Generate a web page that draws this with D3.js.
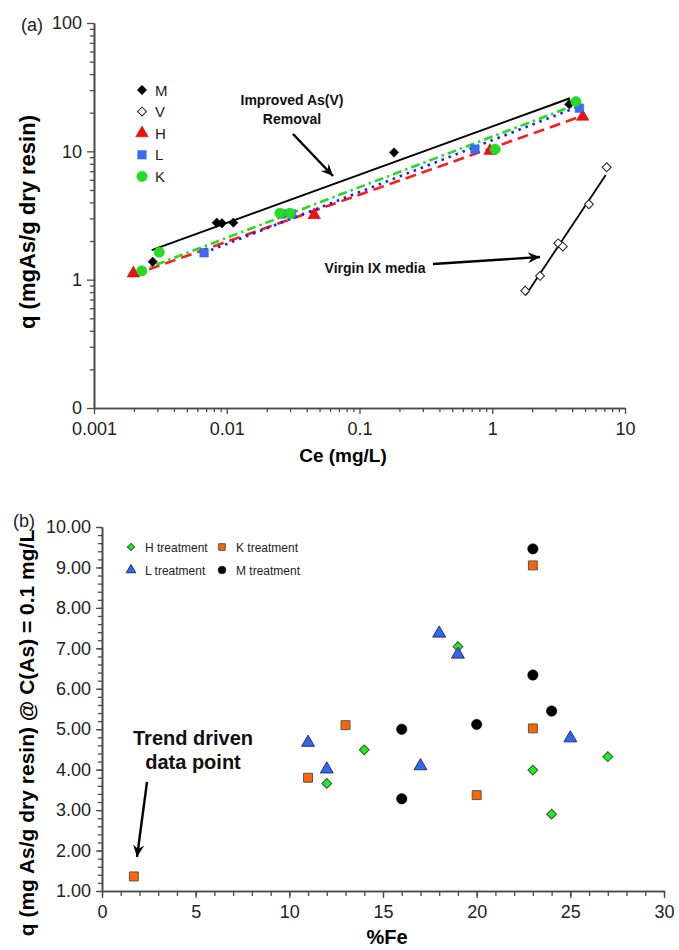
<!DOCTYPE html>
<html>
<head>
<meta charset="utf-8">
<script src="https://cdn.jsdelivr.net/npm/d3@7"></script>
<style>
    body { margin: 0; background: #fff; }
    svg { display: block; font-family: Arial, 'Liberation Sans', sans-serif; }
</style>
</head>
<body>
<script>

/*
*   Data (a): isotherms, Ce (mg/L) vs q (mgAs/g dry resin)
*/

const seriesM = [[0.00277, 1.38], [0.0084, 2.78], [0.0092, 2.75], [0.0112, 2.78], [0.182, 9.8], [3.8, 23.3]]
const seriesV = [[1.77, 0.82], [2.29, 1.07], [3.14, 1.92], [3.40, 1.81], [5.35, 3.87], [7.28, 7.52]]
const seriesH = [[0.00198, 1.12], [0.0456, 3.19], [0.962, 10.1], [4.80, 18.6]]
const seriesL = [[0.00675, 1.62], [0.0259, 3.25], [0.0308, 3.25], [0.741, 10.4], [4.53, 21.7]]
const seriesK = [[0.00229, 1.17], [0.0031, 1.64], [0.0252, 3.29], [0.0299, 3.29], [1.05, 10.4], [4.27, 24.4]]

// trend line end points
const fitM = [[0.00272, 1.70], [3.85, 25.9]]
const fitV = [[1.79, 0.76], [7.16, 6.55]]
const fitH = [[0.00197, 1.09], [4.58, 18.6]]
const fitL = [[0.00675, 1.62], [4.20, 21.8]]
const fitK = [[0.00214, 1.155], [4.06, 22.6]]

const topLegend = ['M', 'V', 'H', 'L', 'K']
const topXTicks = [0.001, 0.01, 0.1, 1, 10]
const topXLabels = ['0.001', '0.01', '0.1', '1', '10']
const topYTicks = [0.1, 1, 10, 100]
const topYLabels = ['0', '1', '10', '100']


/*
*   Data (b): q @ C(As) = 0.1 mg/L vs %Fe
*/

const treatH = [[12, 3.66], [14, 4.49], [19, 7.04], [23, 3.99], [24, 2.90], [27, 4.32]]
const treatK = [[1.7, 1.36], [11, 3.80], [13, 5.10], [20, 3.37], [23, 5.02], [23, 9.05]]
const treatL = [[11, 4.67], [12, 4.01], [17, 4.09], [18, 7.37], [19, 6.85], [25, 4.78]]
const treatM = [[16, 5.00], [16, 3.28], [20, 5.12], [23, 9.46], [23, 6.34], [24, 5.45]]

const botLegend = ['H treatment', 'K treatment', 'L treatment', 'M treatment']
const botXTicks = [0, 5, 10, 15, 20, 25, 30]
const botYTicks = [1, 2, 3, 4, 5, 6, 7, 8, 9, 10]


/*
*   Setup
*/

const svg = d3.select('body').append('svg')
    .attr('width', 679)
    .attr('height', 950)

const AXIS = '#4a4a4a'

const styleAxis = (g, size) => {
    g.select('.domain').attr('stroke', AXIS).attr('stroke-width', 1.6)
    g.selectAll('.tick line').attr('stroke', AXIS).attr('stroke-width', 1.3)
    g.selectAll('.tick text').attr('fill', '#222').style('font-size', size + 'px')
}

// diamonds are squares turned by 45 degrees
const DIAMOND = 'diamond'
const sym = (type, size) => d3.symbol().type(type === DIAMOND ? d3.symbolSquare : type).size(size)()
const place = (type, x, y) => `translate(${x},${y})` + (type === DIAMOND ? ' rotate(45)' : '')


/*
*   Panel (a)
*/

const xA = d3.scaleLog().domain([0.001, 10]).range([94, 625])
const yA = d3.scaleLog().domain([0.1, 100]).range([408, 23])

const minorA = (scale, majors) => scale.ticks().filter(t => !majors.some(m => Math.abs(m - t) / m < 1e-6))

svg.append('g').attr('transform', 'translate(0,408)')
    .call(d3.axisBottom(xA).tickValues(minorA(xA, topXTicks)).tickFormat('').tickSize(4).tickSizeOuter(0))
    .call(g => styleAxis(g, 18))
svg.append('g').attr('transform', 'translate(0,408)')
    .call(d3.axisBottom(xA).tickValues(topXTicks).tickFormat((d, i) => topXLabels[i]).tickSize(6).tickPadding(8).tickSizeOuter(0))
    .call(g => styleAxis(g, 18))

svg.append('g').attr('transform', 'translate(94,0)')
    .call(d3.axisLeft(yA).tickValues(minorA(yA, topYTicks)).tickFormat('').tickSize(4).tickSizeOuter(0))
    .call(g => styleAxis(g, 18))
svg.append('g').attr('transform', 'translate(94,0)')
    .call(d3.axisLeft(yA).tickValues(topYTicks).tickFormat((d, i) => topYLabels[i]).tickSize(7).tickPadding(5).tickSizeOuter(0))
    .call(g => styleAxis(g, 18))

svg.append('text').attr('x', 21).attr('y', 31).style('font-size', '18px').attr('fill', '#222').text('(a)')

svg.append('text')
    .attr('transform', 'translate(35,222) rotate(-90)')
    .attr('text-anchor', 'middle')
    .style('font-size', '22px').style('font-weight', 'bold')
    .text('q (mgAs/g dry resin)')

svg.append('text')
    .attr('x', 343).attr('y', 462)
    .attr('text-anchor', 'middle')
    .style('font-size', '19px').style('font-weight', 'bold')
    .text('Ce (mg/L)')

const lineA = d3.line().x(d => xA(d[0])).y(d => yA(d[1]))

const fitsA = [
    { data: fitV, color: '#000', width: 1.8, dash: null },
    { data: fitM, color: '#000', width: 2, dash: null },
    { data: fitH, color: '#ff1a1a', width: 2.6, dash: '11,6' },
    { data: fitL, color: '#1a1aff', width: 2.6, dash: '2.5,5' },
    { data: fitK, color: '#22dd22', width: 2.6, dash: '9,4,2.5,4' },
]

svg.append('g').selectAll('path')
    .data(fitsA)
    .join('path')
    .attr('d', d => lineA(d.data))
    .attr('fill', 'none')
    .attr('stroke', d => d.color)
    .attr('stroke-width', d => d.width)
    .attr('stroke-dasharray', d => d.dash)

const marksA = [
    { data: seriesV, type: DIAMOND, size: 40, fill: '#fff', stroke: '#222', sw: 1 },
    { data: seriesM, type: DIAMOND, size: 44, fill: '#000', stroke: '#000', sw: 0.5 },
    { data: seriesH, type: d3.symbolTriangle, size: 68, fill: '#ee1111', stroke: '#cc0000', sw: 0.5 },
    { data: seriesL, type: d3.symbolSquare, size: 72, fill: '#3a6cf4', stroke: '#2a55dd', sw: 0.5 },
    { data: seriesK, type: d3.symbolCircle, size: 85, fill: '#22dd22', stroke: '#1fc41f', sw: 0.5 },
]

marksA.forEach(s => {
    svg.append('g').selectAll('path')
        .data(s.data)
        .join('path')
        .attr('transform', d => place(s.type, xA(d[0]), yA(d[1])))
        .attr('d', sym(s.type, s.size))
        .attr('fill', s.fill)
        .attr('stroke', s.stroke)
        .attr('stroke-width', s.sw)
})

// legend (a)
const legA = svg.append('g').attr('transform', 'translate(142,90)')
const legAStyle = [marksA[1], marksA[0], marksA[2], marksA[3], marksA[4]]
topLegend.forEach((name, i) => {
    const s = legAStyle[i]
    legA.append('path')
        .attr('transform', place(s.type, 0, i * 21.6))
        .attr('d', sym(s.type, s.size))
        .attr('fill', s.fill).attr('stroke', s.stroke).attr('stroke-width', s.sw)
    legA.append('text')
        .attr('x', 13).attr('y', i * 21.6 + 5.5)
        .style('font-size', '15px').attr('fill', '#222')
        .text(name)
})

// arrows
const defs = svg.append('defs')
defs.append('marker')
    .attr('id', 'head')
    .attr('viewBox', '-12 -6 14 12')
    .attr('markerWidth', 14).attr('markerHeight', 12)
    .attr('markerUnits', 'userSpaceOnUse')
    .attr('orient', 'auto')
    .append('path')
    .attr('d', 'M0,0 L-12,-5.5 L-8,0 L-12,5.5 Z')
    .attr('fill', '#000')

const arrow = (x1, y1, x2, y2) => svg.append('line')
    .attr('x1', x1).attr('y1', y1).attr('x2', x2).attr('y2', y2)
    .attr('stroke', '#000').attr('stroke-width', 2.4)
    .attr('marker-end', 'url(#head)')

const boldText = (x, y, size, str) => svg.append('text')
    .attr('x', x).attr('y', y).attr('text-anchor', 'middle')
    .style('font-size', size + 'px').style('font-weight', 'bold').attr('fill', '#111')
    .text(str)

boldText(292, 105, 14, 'Improved As(V)')
boldText(292, 124, 14, 'Removal')
arrow(293, 134, 333, 176)

boldText(375, 273, 14, 'Virgin IX media')
arrow(433, 264, 540, 257)


/*
*   Panel (b)
*/

const xB = d3.scaleLinear().domain([0, 30]).range([102, 664])
const yB = d3.scaleLinear().domain([1, 10]).range([891, 527])

svg.append('g').attr('transform', 'translate(0,891)')
    .call(d3.axisBottom(xB).ticks(30).tickFormat('').tickSize(5).tickSizeOuter(0))
    .call(g => styleAxis(g, 18))
svg.append('g').attr('transform', 'translate(0,891)')
    .call(d3.axisBottom(xB).tickValues(botXTicks).tickFormat(d3.format('d')).tickSize(7).tickPadding(7).tickSizeOuter(0))
    .call(g => styleAxis(g, 18))

svg.append('g').attr('transform', 'translate(102,0)')
    .call(d3.axisLeft(yB).ticks(45).tickFormat('').tickSize(4).tickSizeOuter(0))
    .call(g => styleAxis(g, 18))
svg.append('g').attr('transform', 'translate(102,0)')
    .call(d3.axisLeft(yB).tickValues(botYTicks).tickFormat(d3.format('.2f')).tickSize(6).tickPadding(5).tickSizeOuter(0))
    .call(g => styleAxis(g, 18))

svg.append('text').attr('x', 13).attr('y', 527).style('font-size', '18px').attr('fill', '#222').text('(b)')

svg.append('text')
    .attr('transform', 'translate(34,733) rotate(-90)')
    .attr('text-anchor', 'middle')
    .style('font-size', '21px').style('font-weight', 'bold')
    .text('q (mg As/g dry resin) @ C(As) = 0.1 mg/L')

svg.append('text')
    .attr('x', 387).attr('y', 944)
    .attr('text-anchor', 'middle')
    .style('font-size', '20px').style('font-weight', 'bold')
    .text('%Fe')

const marksB = [
    { data: treatH, type: DIAMOND, size: 48, fill: '#22ee22', stroke: '#335533', sw: 1 },
    { data: treatK, type: d3.symbolSquare, size: 80, fill: '#ff6600', stroke: '#555', sw: 1 },
    { data: treatL, type: d3.symbolTriangle, size: 72, fill: '#3366ee', stroke: '#223366', sw: 1 },
    { data: treatM, type: d3.symbolCircle, size: 85, fill: '#000', stroke: '#000', sw: 0.5 },
]

marksB.forEach(s => {
    svg.append('g').selectAll('path')
        .data(s.data)
        .join('path')
        .attr('transform', d => place(s.type, xB(d[0]), yB(d[1])))
        .attr('d', sym(s.type, s.size))
        .attr('fill', s.fill)
        .attr('stroke', s.stroke)
        .attr('stroke-width', s.sw)
})

// legend (b)
const legB = svg.append('g')
botLegend.forEach((name, i) => {
    const s = marksB[i]
    const lx = i % 2 === 0 ? 131 : 222
    const ly = i < 2 ? 547 : 570
    legB.append('path')
        .attr('transform', place(s.type, lx, ly))
        .attr('d', sym(s.type, s.size * 0.55))
        .attr('fill', s.fill).attr('stroke', s.stroke).attr('stroke-width', s.sw)
    legB.append('text')
        .attr('x', lx + 14).attr('y', ly + 4.5)
        .style('font-size', '12px').attr('fill', '#222')
        .text(name)
})

boldText(193, 745, 20, 'Trend driven')
boldText(193, 769, 20, 'data point')
arrow(147, 782, 137, 857)

</script>
</body>
</html>
